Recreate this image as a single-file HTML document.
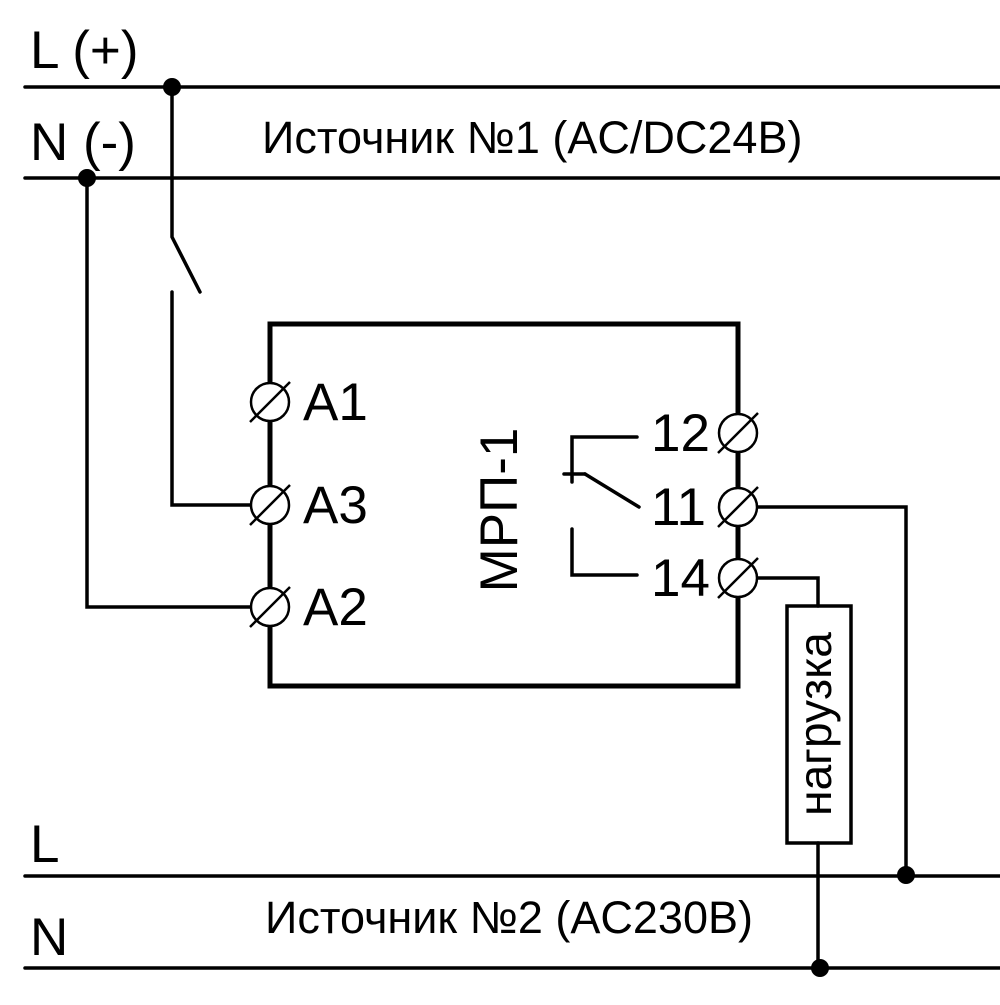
<!DOCTYPE html>
<html><head><meta charset="utf-8"><style>html,body{margin:0;padding:0;background:#fff}</style></head>
<body>
<svg width="1000" height="1000" viewBox="0 0 1000 1000" xmlns="http://www.w3.org/2000/svg" font-family="Liberation Sans, DejaVu Sans, sans-serif">
<g stroke="#000" stroke-width="3.5" fill="none" stroke-linecap="round">
<line x1="25" y1="87" x2="1000" y2="87"/>
<line x1="25" y1="178" x2="1000" y2="178"/>
<line x1="25" y1="876" x2="1000" y2="876"/>
<line x1="25" y1="968" x2="1000" y2="968"/>
<polyline points="172,87 172,237 200,292"/>
<polyline points="172,292 172,505 251,505"/>
<polyline points="87,178 87,607 251,607"/>
<polyline points="757,507 906,507 906,876"/>
<polyline points="757,578 818,578 818,606"/>
<rect x="787" y="606" width="64" height="237"/>
<line x1="818" y1="843" x2="818" y2="968"/>
<polyline points="637,437 572,437 572,482"/>
<line x1="564" y1="474" x2="585" y2="474"/>
<line x1="585" y1="474" x2="639" y2="507"/>
<polyline points="572,529 572,575 637,575"/>
</g>
<rect x="270" y="324" width="468" height="362" fill="none" stroke="#000" stroke-width="5"/>
<g fill="#000">
<circle cx="172" cy="87" r="9"/><circle cx="87" cy="178" r="9"/>
<circle cx="906" cy="875" r="9"/><circle cx="820" cy="968" r="9"/>
</g>
<g stroke="#000" stroke-width="2.5" fill="#fff">
<circle cx="270" cy="402" r="19"/><circle cx="270" cy="505" r="19"/><circle cx="270" cy="607" r="19"/>
<circle cx="738" cy="433" r="19"/><circle cx="738" cy="507" r="19"/><circle cx="738" cy="578" r="19"/>
</g>
<g stroke="#000" stroke-width="2.5">
<line x1="250" y1="422" x2="290" y2="382"/><line x1="250" y1="525" x2="290" y2="485"/><line x1="250" y1="627" x2="290" y2="587"/>
<line x1="718" y1="453" x2="758" y2="413"/><line x1="718" y1="527" x2="758" y2="487"/><line x1="718" y1="598" x2="758" y2="558"/>
</g>
<g font-size="53" fill="#000">
<text x="30" y="68">L (+)</text>
<text x="30" y="160">N (-)</text>
<text x="30" y="862">L</text>
<text x="30" y="955">N</text>
<text x="303" y="420">A1</text>
<text x="303" y="523">A3</text>
<text x="303" y="625">A2</text>
<text x="651" y="451">12</text>
<text x="651" y="525">11</text>
<text x="651" y="596">14</text>
</g>
<g font-size="45" fill="#000">
<text x="262" y="153">Источник №1 (AC/DC24B)</text>
<text x="265" y="933">Источник №2 (AC230B)</text>
</g>
<text x="0" y="0" font-size="53" text-anchor="middle" transform="translate(517,510) rotate(-90)">МРП-1</text>
<text x="0" y="0" font-size="46" text-anchor="middle" transform="translate(831,724) rotate(-90)">нагрузка</text>
</svg>
</body></html>
